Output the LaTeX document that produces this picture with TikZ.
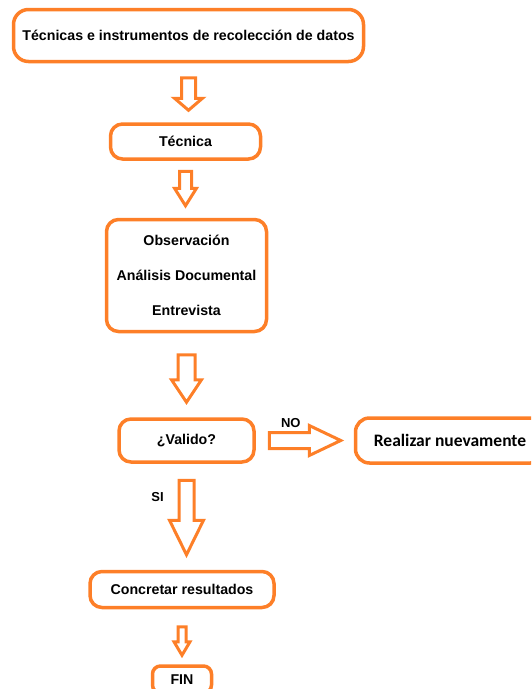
\documentclass[tikz,border=0pt]{standalone}
\usepackage{fontspec}
\setmainfont{Liberation Sans}
\newfontfamily\calibrifont{Carlito}
\usetikzlibrary{positioning,calc}

\definecolor{naranja}{RGB}{253,127,40}

% hollow block arrow pointing down: from, to, shaft hw, head hw, head length, top gap, tip gap
\newcommand{\bajada}[7]{%
  \draw[flecha] let \p1=(#1.south), \p2=(#2.north) in
    (\x1-#3pt,\y1-#6pt) -- (\x1+#3pt,\y1-#6pt) -- (\x1+#3pt,\y2+#7pt+#5pt)
    -- (\x1+#4pt,\y2+#7pt+#5pt) -- (\x1,\y2+#7pt) -- (\x1-#4pt,\y2+#7pt+#5pt)
    -- (\x1-#3pt,\y2+#7pt+#5pt) -- cycle;}

% hollow block arrow pointing right
\newcommand{\derecha}[7]{%
  \draw[flecha] let \p1=(#1.east), \p2=(#2.west) in
    (\x1+#6pt,\y1+#3pt) -- (\x2-#7pt-#5pt,\y1+#3pt) -- (\x2-#7pt-#5pt,\y1+#4pt)
    -- (\x2-#7pt,\y1) -- (\x2-#7pt-#5pt,\y1-#4pt) -- (\x2-#7pt-#5pt,\y1-#3pt)
    -- (\x1+#6pt,\y1-#3pt) -- cycle;}

\begin{document}
\begin{tikzpicture}[
  x=1pt, y=-1pt,
  caja/.style={
    rectangle, draw=naranja, line width=3.5pt, rounded corners=12pt,
    align=center, inner sep=0pt,
    font=\bfseries\fontsize{14.2}{17}\selectfont
  },
  flecha/.style={draw=naranja, line width=3pt, fill=white},
  etiqueta/.style={font=\bfseries\fontsize{13}{15}\selectfont, inner sep=0pt}
]

\useasboundingbox (0,0) rectangle (531,689);
\clip (0,0) rectangle (531,689);

% =====================================================
% TOP
% =====================================================

\node[caja, minimum width=350pt, minimum height=52pt, rounded corners=15pt] (tecnicas) at (188.5,35.5)
{Técnicas e instrumentos de recolección de datos};

\node[caja, below=59pt of tecnicas, xshift=-3pt, minimum width=150pt, minimum height=35pt] (tecnica)
{Técnica};

\node[caja, below=57pt of tecnica, xshift=1pt, minimum width=160pt, minimum height=112pt] (metodos)
{Observación\\[18pt]Análisis Documental\\[18pt]Entrevista};

\bajada{tecnicas}{tecnica}{7}{14}{12}{14.5}{12}
\bajada{tecnica}{metodos}{6}{11}{17.5}{10.5}{12}

% =====================================================
% VALIDATION
% =====================================================

\node[caja, below=84pt of metodos, minimum width=135pt, minimum height=43pt] (valido)
{¿Valido?};

\node[caja, right=98pt of valido, minimum width=189pt, minimum height=45pt, rounded corners=14pt,
  font=\calibrifont\bfseries\fontsize{17.5}{20}\selectfont] (nuevamente)
{Realizar nuevamente};

\bajada{metodos}{valido}{8.5}{15}{22.5}{21.5}{15}
\derecha{valido}{nuevamente}{8}{15}{31.5}{13.5}{13}
\node[etiqueta] (no) at ($(valido.east)+(35,-17)$) {NO};

% =====================================================
% END
% =====================================================

\node[caja, below=106pt of valido, xshift=-4.5pt, minimum width=184pt, minimum height=36pt] (concretar)
{Concretar resultados};

% bottom edge of FIN falls just outside the page, as in the original
\node[caja, below=55pt of concretar, minimum width=59pt, minimum height=27pt, rounded corners=8pt] (fin)
{FIN};

\bajada{valido}{concretar}{7.5}{17}{34.5}{16.5}{15}
\node[etiqueta] (si) at ($(valido.south)+(-29,33)$) {SI};
\bajada{concretar}{fin}{4}{8}{13.5}{17.5}{9}

\end{tikzpicture}
\end{document}
